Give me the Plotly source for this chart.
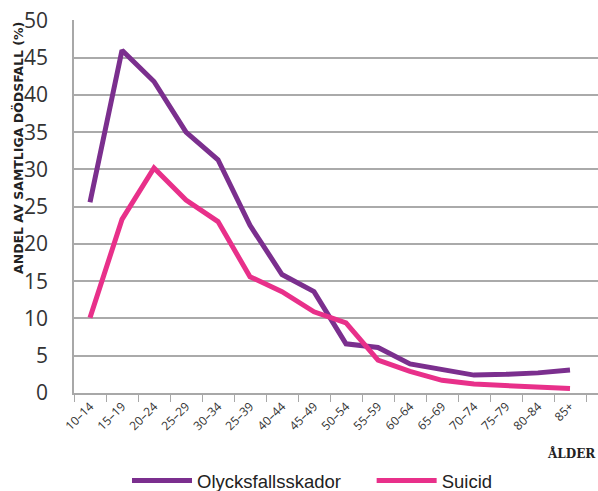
import plotly.graph_objects as go

age_groups = ["10–14", "15–19", "20–24", "25–29", "30–34", "25–39", "40–44", "45–49",
              "50–54", "55–59", "60–64", "65–69", "70–74", "75–79", "80–84", "85+"]
olycksfall = [25.6, 46.0, 41.8, 35.0, 31.3, 22.5, 15.9, 13.6, 6.6, 6.1, 3.9, 3.1, 2.4, 2.5, 2.7, 3.1]
suicid = [10.1, 23.3, 30.2, 25.9, 23.0, 15.6, 13.6, 10.9, 9.4, 4.4, 2.9, 1.7, 1.2, 1.0, 0.75, 0.6]
y_ticks = [0, 5, 10, 15, 20, 25, 30, 35, 40, 45, 50]

fig = go.Figure()
fig.add_trace(go.Scatter(x=age_groups, y=olycksfall, mode="lines",
                         name="Olycksfallsskador" + "\u00a0" * 5,
                         line=dict(color="#7B2F8E", width=5)))
fig.add_trace(go.Scatter(x=age_groups, y=suicid, mode="lines", name="Suicid",
                         line=dict(color="#E8308A", width=5)))

plot_h = 491 - 20 - 98
plot_w = 598 - 74

fig.update_layout(
    template="none",
    width=598, height=491,
    margin=dict(l=74, r=0, t=20, b=98, autoexpand=False),
    plot_bgcolor="white", paper_bgcolor="white",
    font=dict(family="Open Sans, sans-serif", color="#333333"),
    showlegend=True,
    legend=dict(orientation="h", x=(127 - 74) / plot_w, xanchor="left",
                y=(393 - 481) / plot_h, yanchor="middle",
                font=dict(size=18.5, family="Liberation Sans, sans-serif", color="#222222"),
                itemwidth=60, bgcolor="rgba(0,0,0,0)"),
    xaxis=dict(type="category", range=[-0.5, 15.875], showgrid=False, automargin=False,
               showline=True, linecolor="#a8a8a8", linewidth=1.5, zeroline=False,
               ticks="outside", tickson="boundaries", ticklen=7, tickcolor="#a8a8a8", tickwidth=1.2,
               tickangle=-45, tickfont=dict(size=12, color="#333333")),
    yaxis=dict(range=[0, 50.05], tickmode="array", tickvals=y_ticks, showgrid=True,
               gridcolor="#aaaaaa", gridwidth=1.5, layer="below traces",
               showline=True, linecolor="#a8a8a8", linewidth=1.5, zeroline=False, automargin=False,
               ticks="", ticklabelstandoff=20,
               tickfont=dict(size=21, color="#333333", family="Open Sans, sans-serif")),
)
fig.add_annotation(text="<b>ANDEL AV SAMTLIGA DÖDSFALL (%)</b>", textangle=-90,
                   xref="paper", yref="paper", x=(18 - 74) / plot_w, y=(393 - 148) / plot_h,
                   xanchor="center", yanchor="middle", showarrow=False,
                   font=dict(size=12.5, family="DejaVu Sans, sans-serif", color="#222222"))
fig.add_annotation(text="<b>ÅLDER</b>", xref="paper", yref="paper", x=1.0, y=(393 - 453) / plot_h,
                   xanchor="right", yanchor="middle", showarrow=False,
                   font=dict(size=12, family="DejaVu Serif, serif", color="#222222"))

fig.write_html("out.html")
